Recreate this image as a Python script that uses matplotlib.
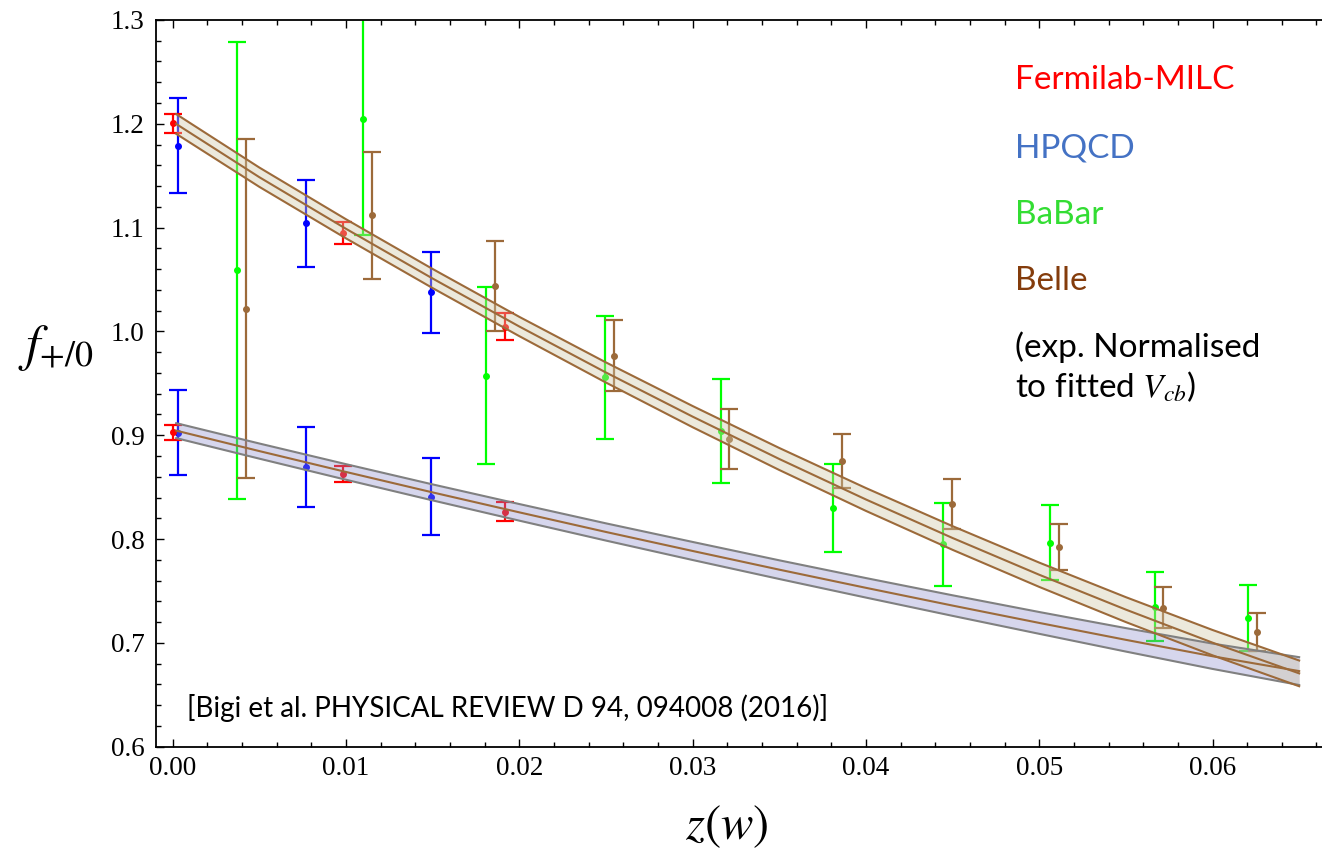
import matplotlib.pyplot as plt
import numpy as np

# lattice points: Fermilab-MILC and HPQCD, f+ and f0
z_fnal = [0.0, 0.0098, 0.0192]
fplus_fnal = [1.2005, 1.0945, 1.0045]
fplus_fnal_err = [0.0093, 0.0105, 0.0128]
fzero_fnal = [0.9028, 0.8623, 0.8263]
fzero_fnal_err = [0.0072, 0.0078, 0.0090]

z_hpqcd = [0.0003, 0.0077, 0.0149]
fplus_hpqcd = [1.1790, 1.1041, 1.0377]
fplus_hpqcd_err = [0.0455, 0.0420, 0.0390]
fzero_hpqcd = [0.9025, 0.8697, 0.8408]
fzero_hpqcd_err = [0.0410, 0.0386, 0.0370]

# experimental bins (normalised to fitted Vcb)
z_babar = [0.00373, 0.0110, 0.01808, 0.02495, 0.03164, 0.03812, 0.04447, 0.05064, 0.05666, 0.06207]
f_babar = [1.0590, 1.2043, 0.9573, 0.9558, 0.9044, 0.8299, 0.7948, 0.7964, 0.7348, 0.7239]
f_babar_err = [0.220, 0.111, 0.085, 0.059, 0.050, 0.042, 0.040, 0.036, 0.033, 0.032]

z_belle = [0.00421, 0.0115, 0.0186, 0.02545, 0.03212, 0.0386, 0.04497, 0.05116, 0.05714, 0.06255]
f_belle = [1.0219, 1.1118, 1.0437, 0.9766, 0.8967, 0.8751, 0.8340, 0.7926, 0.7338, 0.7107]
f_belle_err = [0.163, 0.061, 0.043, 0.034, 0.029, 0.026, 0.024, 0.022, 0.0196, 0.0183]

# fit bands (central value and half width)
band_z = [0.0002, 0.005, 0.01, 0.015, 0.02, 0.025, 0.03, 0.035,
          0.04, 0.045, 0.05, 0.055, 0.06, 0.065]
fplus_mid = [1.1998, 1.1485, 1.0988, 1.0509, 1.0047, 0.9604, 0.9179, 0.8771,
             0.8381, 0.8010, 0.7656, 0.7320, 0.7002, 0.6706]
fplus_half = [0.0095, 0.0093, 0.0092, 0.0092, 0.0093, 0.0097, 0.0102, 0.0106,
              0.0110, 0.0114, 0.0117, 0.0120, 0.0122, 0.0124]
fzero_mid = [0.9044, 0.8847, 0.8646, 0.8449, 0.8257, 0.8068, 0.7885, 0.7705,
             0.7530, 0.7359, 0.7192, 0.7029, 0.6871, 0.6728]
fzero_half = [0.0072, 0.0073, 0.0075, 0.0077, 0.0080, 0.0083, 0.0087, 0.0090,
              0.0094, 0.0099, 0.0105, 0.0113, 0.0122, 0.0134]

RED = "#ff0000"
BLUE = "#0000ff"
GREEN = "#00ff00"
BROWN = "#9c6a3a"

plt.rcParams["mathtext.fontset"] = "stix"

fig = plt.figure(figsize=(13.22, 8.55), dpi=100)
ax = fig.add_axes([0.1178, 0.1267, 0.8977, 0.8500])
ax.set_xlim(-0.00098, 0.0675)
ax.set_ylim(0.6, 1.3)

def bars(z, f, err, color):
    ax.errorbar(z, f, yerr=err, fmt="o", color=color, ms=4, lw=1.6,
                capsize=6.5, capthick=1.6, zorder=2, clip_on=True)

bars(z_babar, f_babar, f_babar_err, GREEN)
bars(z_belle, f_belle, f_belle_err, BROWN)
bars(z_hpqcd, fplus_hpqcd, fplus_hpqcd_err, BLUE)
bars(z_hpqcd, fzero_hpqcd, fzero_hpqcd_err, BLUE)
bars(z_fnal, fplus_fnal, fplus_fnal_err, RED)
bars(z_fnal, fzero_fnal, fzero_fnal_err, RED)

bz = np.array(band_z)
fp = np.array(fplus_mid)
fph = np.array(fplus_half)
f0 = np.array(fzero_mid)
f0h = np.array(fzero_half)

ax.fill_between(bz, f0 - f0h, f0 + f0h, color="#8c8ccc", alpha=0.35, lw=0, zorder=3)
ax.fill_between(bz, fp - fph, fp + fph, color="#d0c8a8", alpha=0.4, lw=0, zorder=3)
for edge in (f0 - f0h, f0 + f0h):
    ax.plot(bz, edge, color="#808080", lw=1.5, zorder=4)
ax.plot(bz, f0, color=BROWN, lw=1.5, zorder=4)
for line in (fp - fph, fp, fp + fph):
    ax.plot(bz, line, color=BROWN, lw=1.5, zorder=4)

# Mathematica-style frame: inward ticks on left/bottom/top
for side in ("left", "bottom", "top"):
    ax.spines[side].set_linewidth(1.3)
ax.spines["right"].set_visible(False)
ax.set_xticks(np.arange(0.0, 0.0601, 0.01))
ax.set_xticks(np.arange(0.0, 0.0675, 0.002), minor=True)
ax.set_yticks(np.arange(0.6, 1.301, 0.1))
ax.set_yticks(np.arange(0.6, 1.301, 0.02), minor=True)
ax.xaxis.set_major_formatter(plt.FuncFormatter(lambda v, p: f"{v:.2f}"))
ax.yaxis.set_major_formatter(plt.FuncFormatter(lambda v, p: f"{v:.1f}"))
ax.tick_params(which="both", direction="in", top=True, right=False, width=1.0)
ax.tick_params(which="major", length=6)
ax.tick_params(which="minor", length=3.5)
ax.tick_params(axis="x", which="major", labelsize=19.5, pad=7)
ax.tick_params(axis="y", which="major", labelsize=19.5, pad=8)
for lab in ax.get_xticklabels() + ax.get_yticklabels():
    lab.set_fontfamily("Liberation Serif")

fig.text(56 / 1322, 1 - 348 / 855, r"$f_{+/0}$", fontsize=37, ha="center", va="center")
fig.text(727 / 1322, 1 - 826 / 855, r"$z(w)$", fontsize=35, ha="center", va="center")

legend_items = [("Fermilab-MILC", "#ff0000", 80),
                ("HPQCD", "#4472c4", 148),
                ("BaBar", "#33dd33", 215),
                ("Belle", "#843c0c", 281)]
for label, color, ypx in legend_items:
    fig.text(1015 / 1322, 1 - ypx / 855, label, color=color, fontsize=24,
             family="Lato", ha="left", va="center")
fig.text(1015 / 1322, 1 - 347 / 855, "(exp. Normalised", color="black",
         fontsize=24, family="Lato", ha="left", va="center")
fig.text(1015 / 1322, 1 - 387 / 855, r"to fitted $V_{cb}$)", color="black",
         fontsize=24, family="Lato", ha="left", va="center")

fig.text(187 / 1322, 1 - 708 / 855, "[Bigi et al. PHYSICAL REVIEW D 94, 094008 (2016)]",
         color="black", fontsize=20, family="Lato", ha="left", va="center")

fig.savefig("out.png", dpi=100)
